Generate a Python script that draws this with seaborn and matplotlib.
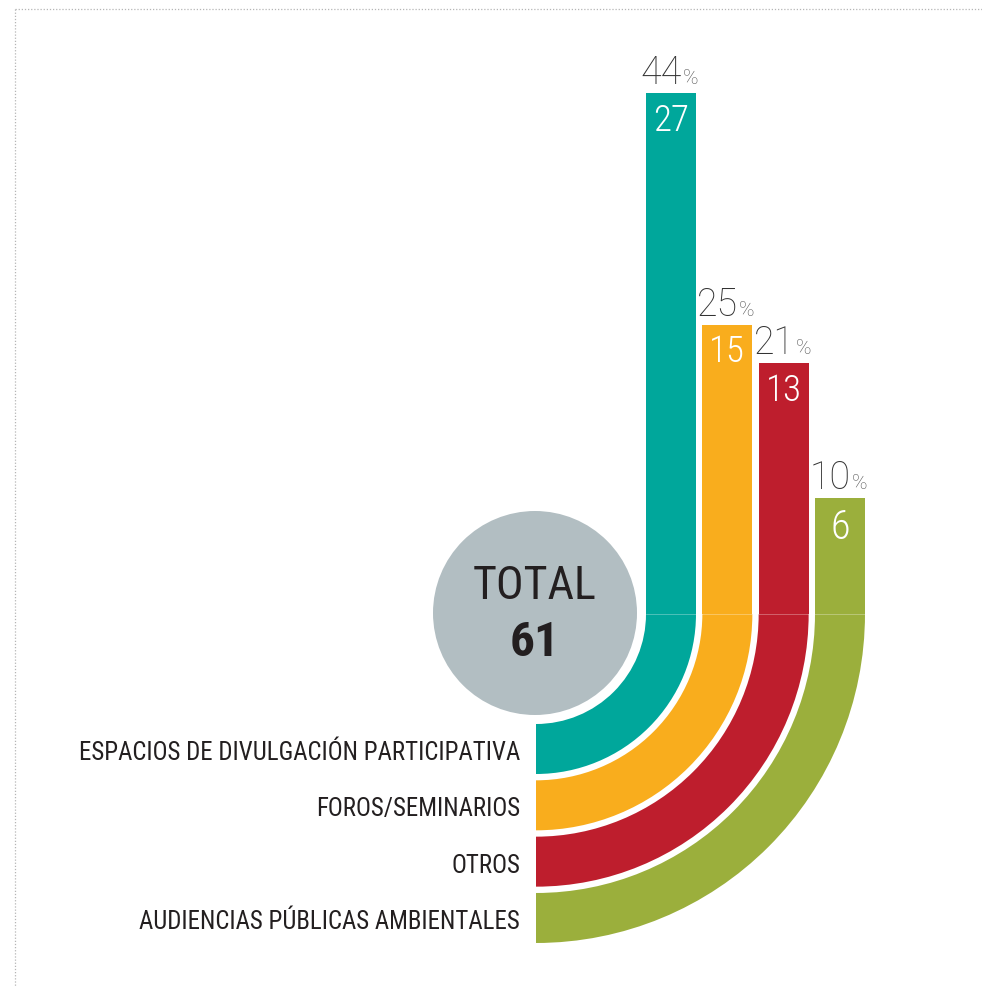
import numpy as np
import pandas as pd
import seaborn as sns
from matplotlib import pyplot as plt
from matplotlib import font_manager as fm
from matplotlib.patches import Wedge, Circle

# data
categories = ['ESPACIOS DE DIVULGACIÓN PARTICIPATIVA', 'FOROS/SEMINARIOS',
              'OTROS', 'AUDIENCIAS PÚBLICAS AMBIENTALES']
counts = [27, 15, 13, 6]
percents = [44, 25, 21, 10]
total = 61
colors = ['#00a79b', '#f9ad1d', '#be1e2d', '#9baf3c']

# layout (pixels)
W, H = 982, 987
U = 19.3      # pixels per unit of count
Y0 = 615      # row where the bars start bending
CX = 536      # centre of the bends
R0 = 110      # inner radius of the first band
STEP = 56.33  # band pitch
BW = 50       # band width


def X(p):
    return p / U


def Y(p):
    return (Y0 - p) / U


sns.set_style('white')

names = {f.name for f in fm.fontManager.ttflist}
cond = next((n for n in ['Roboto Condensed', 'Liberation Sans Narrow', 'Open Sans Condensed',
                         'Noto Sans Condensed', 'Liberation Sans'] if n in names), 'DejaVu Sans')
light = next((n for n in ['Roboto', 'Lato', 'Liberation Sans'] if n in names), 'DejaVu Sans')
dark = '#231f20'

fig = plt.figure(figsize=(W / 100, H / 100), dpi=100)
ax = fig.add_axes([0, 0, 1, 1])

df = pd.DataFrame({'cat': categories, 'count': counts,
                   'pos': [X(CX + R0 + STEP * i + BW / 2) for i in range(len(counts))]})
sns.barplot(data=df, x='pos', y='count', hue='cat', palette=dict(zip(categories, colors)),
            native_scale=True, width=BW / STEP, dodge=False, saturation=1,
            linewidth=0, legend=False, ax=ax)

# bends down to the labels
for i, c in enumerate(colors):
    r_out = X(R0 + STEP * i + BW)
    ax.add_patch(Wedge((X(CX), 0), r_out, 270, 360, width=X(BW), facecolor=c, lw=0))
ax.plot([X(CX + R0), X(CX + R0 + STEP * 3 + BW)], [0, 0], color='white', alpha=0.3, lw=0.7)

# total circle
ax.add_patch(Circle((X(535), Y(614)), X(102), facecolor='#b2bec2', lw=0))

fig.canvas.draw()
renderer = fig.canvas.get_renderer()


def fit(t, target):
    bb = t.get_window_extent(renderer)
    if bb.width > target:
        t.set_fontsize(t.get_fontsize() * target / bb.width)
    return t.get_fontsize()


t = ax.text(X(535), Y(586), 'TOTAL', ha='center', va='center', fontsize=42,
            family=cond, color=dark)
fit(t, 124)
t = ax.text(X(535), Y(643), str(total), ha='center', va='center', fontsize=40,
            family=cond, weight='bold', color=dark)
fit(t, 50)

label_size = None
for i, (cat, n, p) in enumerate(zip(categories, counts, percents)):
    xc = X(CX + R0 + STEP * i + BW / 2)
    top_px = Y0 - n * U
    t = ax.text(xc, Y(top_px + 9), str(n), ha='center', va='top', fontsize=29,
                family=cond, weight='light', color='white')
    fit(t, 36)
    ax.text(xc + X(11), Y(top_px - 10), str(p), ha='right', va='baseline', fontsize=27,
            family=light, weight='light', color='#333333')
    ax.text(xc + X(12), Y(top_px - 10), '%', ha='left', va='baseline', fontsize=15,
            family=light, weight='light', color='#555555')
    t = ax.text(X(520), Y(Y0 + R0 + STEP * i + BW / 2 + 3), cat, ha='right', va='center',
                fontsize=label_size or 22, family=cond, color=dark)
    if label_size is None:
        label_size = fit(t, 442)

# dotted frame
ax.plot([X(15), X(W)], [Y(9.5), Y(9.5)], ls=(0, (1, 1.5)), color='#b5b5b5', lw=0.9)
ax.plot([X(15), X(15)], [Y(9.5), Y(H)], ls=(0, (1, 1.5)), color='#b5b5b5', lw=0.9)

ax.set_xlim(0, X(W))
ax.set_ylim(Y(H), Y(0))
ax.axis('off')

fig.savefig('out.png', dpi=100, facecolor='white')
